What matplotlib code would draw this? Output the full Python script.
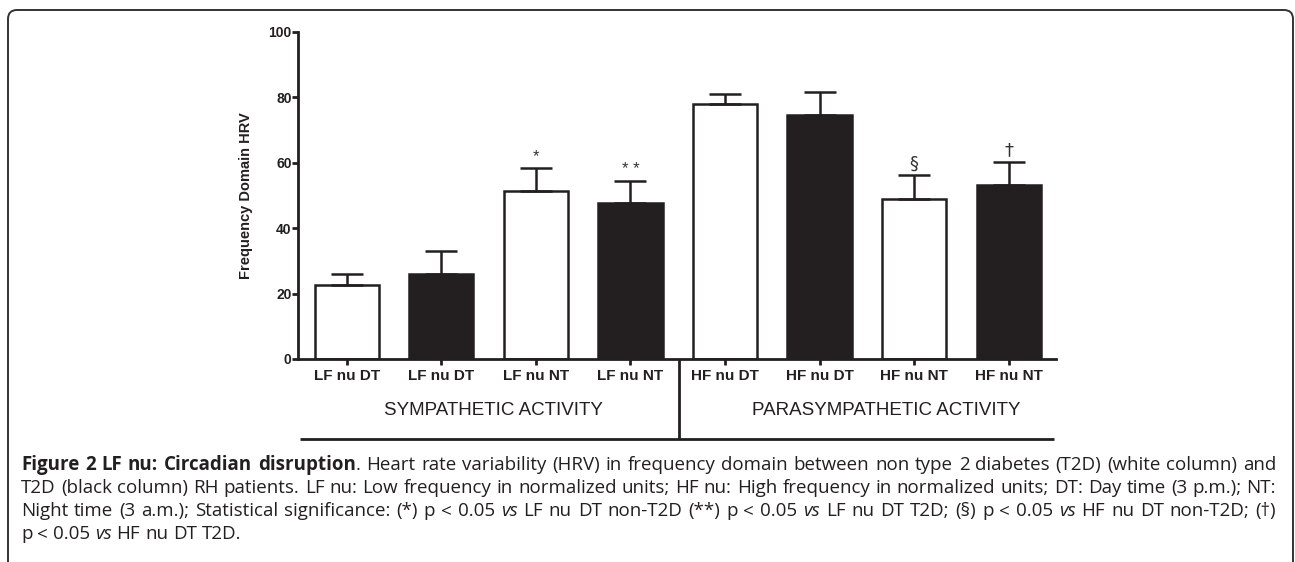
import matplotlib

matplotlib.use("Agg")
import matplotlib.pyplot as plt
import matplotlib.transforms as mtransforms
from matplotlib.patches import FancyBboxPatch

W, H = 1295, 562
INK = "#231f20"

# --- data ---
labels = ["LF nu DT", "LF nu DT", "LF nu NT", "LF nu NT",
          "HF nu DT", "HF nu DT", "HF nu NT", "HF nu NT"]
means = [22.6, 26.0, 51.3, 47.6, 77.8, 74.5, 49.0, 53.2]
sem = [3.3, 7.0, 7.1, 6.9, 3.2, 7.0, 7.2, 7.1]
is_t2d = [False, True, False, True, False, True, False, True]
marks = ["", "", "*", "* *", "", "", "§", "†"]
groups = ["SYMPATHETIC ACTIVITY", "PARASYMPATHETIC ACTIVITY"]
yticks = [0, 20, 40, 60, 80, 100]

caption = [
    [("Figure 2 LF nu: Circadian disruption", "bold"),
     (". Heart rate variability (HRV) in frequency domain between non type 2 "
      "diabetes (T2D) (white column) and", "normal")],
    [("T2D (black column) RH patients. LF nu: Low frequency in normalized units; "
      "HF nu: High frequency in normalized units; DT: Day time (3 p.m.); NT:", "normal")],
    [("Night time (3 a.m.); Statistical significance: (*) p < 0.05 ", "normal"),
     ("vs", "italic"), (" LF nu DT non-T2D (**) p < 0.05 ", "normal"),
     ("vs", "italic"), (" LF nu DT T2D; (§) p < 0.05 ", "normal"),
     ("vs", "italic"), (" HF nu DT non-T2D; (†)", "normal")],
    [("p < 0.05 ", "normal"), ("vs", "italic"), (" HF nu DT T2D.", "normal")],
]

plt.rcParams["font.family"] = ["Liberation Sans", "DejaVu Sans"]

fig = plt.figure(figsize=(W / 100, H / 100), dpi=100)
ax = fig.add_axes([298 / W, (H - 359) / H, (1056 - 298) / W, (359 - 31.7) / H])

x = list(range(len(means)))
fills = [INK if t else "white" for t in is_t2d]
ax.bar(x, means, width=0.68, color=fills, edgecolor=INK, linewidth=1.8, zorder=2)
ax.errorbar(x, means, yerr=[[0] * len(sem), sem], fmt="none", ecolor=INK,
            elinewidth=1.8, capsize=11.5, capthick=1.8, zorder=3)

for xi, m, e, mk in zip(x, means, sem, marks):
    if mk:
        ax.annotate(mk, (xi, m + e), xytext=(0, 4.5), textcoords="offset points",
                    ha="center", va="baseline", fontsize=13 if mk in "§†" else 12,
                    color="#333333", family=["DejaVu Sans"] if mk in "§†" else None)

ax.set_xlim(-0.515, 7.5)
ax.set_ylim(0, 100)
ax.set_yticks(yticks)
ax.set_xticks(x)
ax.set_xticklabels(labels, fontweight="bold", fontsize=11)
for t in ax.get_yticklabels():
    t.set_fontweight("bold")
    t.set_fontsize(10)
ax.tick_params(axis="both", width=2, length=4, color=INK, labelcolor=INK)
ax.tick_params(axis="y", pad=0.5)
ax.tick_params(axis="x", pad=3)
for s in ("top", "right"):
    ax.spines[s].set_visible(False)
for s in ("left", "bottom"):
    ax.spines[s].set_linewidth(2)
    ax.spines[s].set_color(INK)

ax.set_ylabel("Frequency Domain HRV", fontweight="bold", fontsize=10.5, color=INK)
ax.yaxis.set_label_coords(-0.0594, 0.5)

# group labels and the bracket under the axis
blend = mtransforms.blended_transform_factory(ax.transData, ax.transAxes)
for gx, g in zip([1.55, 5.71], groups):
    ax.text(gx, -0.158, g, transform=blend, ha="center", va="center",
            fontsize=13.5, color=INK)
ax.plot([-0.49, 7.48], [-0.244, -0.244], transform=blend, clip_on=False,
        color=INK, lw=2, solid_capstyle="butt")
ax.plot([3.516, 3.516], [0, -0.244], transform=blend, clip_on=False,
        color=INK, lw=2, solid_capstyle="butt")

# rounded frame (open at the bottom edge)
px = mtransforms.IdentityTransform()
fig.patches.append(FancyBboxPatch((8, -40), 1285, H - 10 + 40,
                                  boxstyle="round,pad=0,rounding_size=9",
                                  transform=px, fill=False, edgecolor="#333333",
                                  lw=1.4))

# justified caption
renderer = fig.canvas.get_renderer()
left, right = 21, 1276
baselines = [470, 493, 516, 539]
CAP_FAMILY = ["Open Sans", "DejaVu Sans"]


def split_words(segments):
    words = []
    new_word = True
    for text, style in segments:
        for i, part in enumerate(text.split(" ")):
            if i > 0:
                new_word = True
            if not part:
                continue
            if new_word or not words:
                words.append([])
                new_word = False
            words[-1].append((part, style))
    return words


def make_text(s, style, size, y=0):
    return fig.text(0, y, s, transform=px, fontsize=size, family=CAP_FAMILY,
                    color=INK,
                    fontweight="bold" if style == "bold" else "normal",
                    fontstyle="italic" if style == "italic" else "normal",
                    va="baseline", ha="left")


def measure(s, style, size):
    t = make_text(s, style, size)
    w = t.get_window_extent(renderer).width
    t.remove()
    return w


def space_width(size):
    return measure("a a", "normal", size) - measure("aa", "normal", size)


all_words = [split_words(segs) for segs in caption]

# pick the caption size so the widest justified line fits with normal spacing
base = 10.0
sp = space_width(base)
natural = []
for words in all_words[:-1]:
    tot = sum(measure(p, st, base) for w in words for p, st in w)
    natural.append(tot + sp * (len(words) - 1))
cap_size = base * (right - left) / max(natural) * 0.995

sp = space_width(cap_size)
for n, (words, bl) in enumerate(zip(all_words, baselines)):
    y = H - bl
    placed, widths = [], []
    for w in words:
        items, ww = [], 0
        for part, style in w:
            t = make_text(part, style, cap_size, y)
            items.append((t, ww))
            ww += t.get_window_extent(renderer).width
        placed.append(items)
        widths.append(ww)
    if n < len(all_words) - 1:
        gap = (right - left - sum(widths)) / (len(words) - 1)
    else:
        gap = sp
    xpos = left
    for items, ww in zip(placed, widths):
        for t, off in items:
            t.set_position((xpos + off, y))
        xpos += ww + gap

fig.savefig("out.png", dpi=100)
